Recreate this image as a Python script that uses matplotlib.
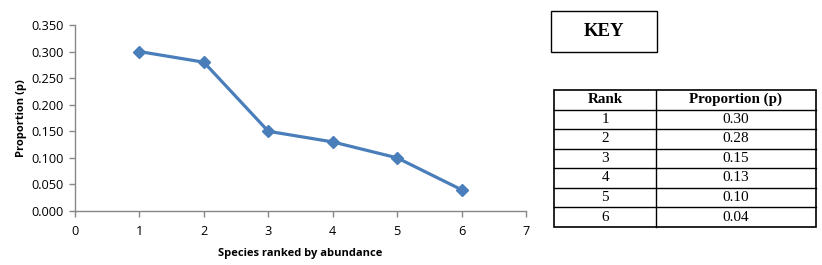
import matplotlib
matplotlib.use("Agg")
import matplotlib.pyplot as plt
from matplotlib.lines import Line2D
from matplotlib.patches import Rectangle

ranks = [1, 2, 3, 4, 5, 6]
proportions = [0.30, 0.28, 0.15, 0.13, 0.10, 0.04]
rank_labels = ["1", "2", "3", "4", "5", "6"]
prop_labels = ["0.30", "0.28", "0.15", "0.13", "0.10", "0.04"]
yticks = [0.0, 0.05, 0.10, 0.15, 0.20, 0.25, 0.30, 0.35]
xticks = [0, 1, 2, 3, 4, 5, 6, 7]

W, H = 822, 265
fig = plt.figure(figsize=(W / 100, H / 100), dpi=100)

def fx(px):
    return px / W

def fy(py):
    return 1 - py / H

ax = fig.add_axes([fx(75), fy(211), fx(526) - fx(75), fy(25) - fy(211)])
ax.plot(ranks, proportions, color="#4A7EBB", lw=2.3, marker="D", ms=6,
        markerfacecolor="#4A7EBB", markeredgecolor="#4A7EBB")
ax.set_xlim(0, 7)
ax.set_ylim(0, 0.35)
ax.set_xticks(xticks)
ax.set_yticks(yticks)
ax.set_yticklabels([f"{v:.3f}" for v in yticks])
for s in ["top", "right"]:
    ax.spines[s].set_visible(False)
for s in ["left", "bottom"]:
    ax.spines[s].set_color("#878787")
    ax.spines[s].set_linewidth(1.0)
ax.tick_params(axis="both", colors="#878787", labelcolor="black", labelsize=9.2,
               length=4, width=1.0, direction="out")
ax.tick_params(axis="x", pad=6)
ax.tick_params(axis="y", pad=4)
ax.set_xlabel("Species ranked by abundance", fontsize=8, fontweight="bold",
              fontfamily="Open Sans", labelpad=7)
ax.set_ylabel("Proportion (p)", fontsize=8, fontweight="bold",
              fontfamily="Open Sans", labelpad=3)
for lab in ax.get_xticklabels() + ax.get_yticklabels():
    lab.set_fontfamily("Open Sans")

# KEY box
fig.patches.append(Rectangle((fx(551), fy(52)), fx(657) - fx(551), fy(11) - fy(52),
                             transform=fig.transFigure, fill=False, ec="black", lw=1.0))
fig.text(fx(604), fy(31.5), "KEY", ha="center", va="center", fontsize=13.5,
         fontweight="bold", fontfamily="Liberation Serif")

# Table
tx0, tx1, tmid = 554, 815.5, 656.3
ty0 = 90
hdr_h = 19.5
row_h = 19.55
nrows = len(ranks)
ty1 = ty0 + hdr_h + row_h * nrows
fig.patches.append(Rectangle((fx(tx0), fy(ty1)), fx(tx1) - fx(tx0), fy(ty0) - fy(ty1),
                             transform=fig.transFigure, fill=False, ec="black", lw=1.2))
fig.lines.append(Line2D([fx(tmid), fx(tmid)], [fy(ty0), fy(ty1)],
                        transform=fig.transFigure, color="black", lw=1.0))
ys = [ty0 + hdr_h + row_h * i for i in range(nrows)]
for y in ys:
    fig.lines.append(Line2D([fx(tx0), fx(tx1)], [fy(y), fy(y)],
                            transform=fig.transFigure, color="black", lw=1.0))
c1 = (tx0 + tmid) / 2
c2 = (tmid + tx1) / 2
fig.text(fx(c1), fy(ty0 + hdr_h / 2), "Rank", ha="center", va="center",
         fontsize=10.8, fontweight="bold", fontfamily="Liberation Serif")
fig.text(fx(c2), fy(ty0 + hdr_h / 2), "Proportion (p)", ha="center", va="center",
         fontsize=10.8, fontweight="bold", fontfamily="Liberation Serif")
for i in range(nrows):
    yc = ty0 + hdr_h + row_h * (i + 0.5)
    fig.text(fx(c1), fy(yc), rank_labels[i], ha="center", va="center",
             fontsize=11, fontfamily="Liberation Serif")
    fig.text(fx(c2), fy(yc), prop_labels[i], ha="center", va="center",
             fontsize=11, fontfamily="Liberation Serif")

fig.savefig("out.png", dpi=100)
